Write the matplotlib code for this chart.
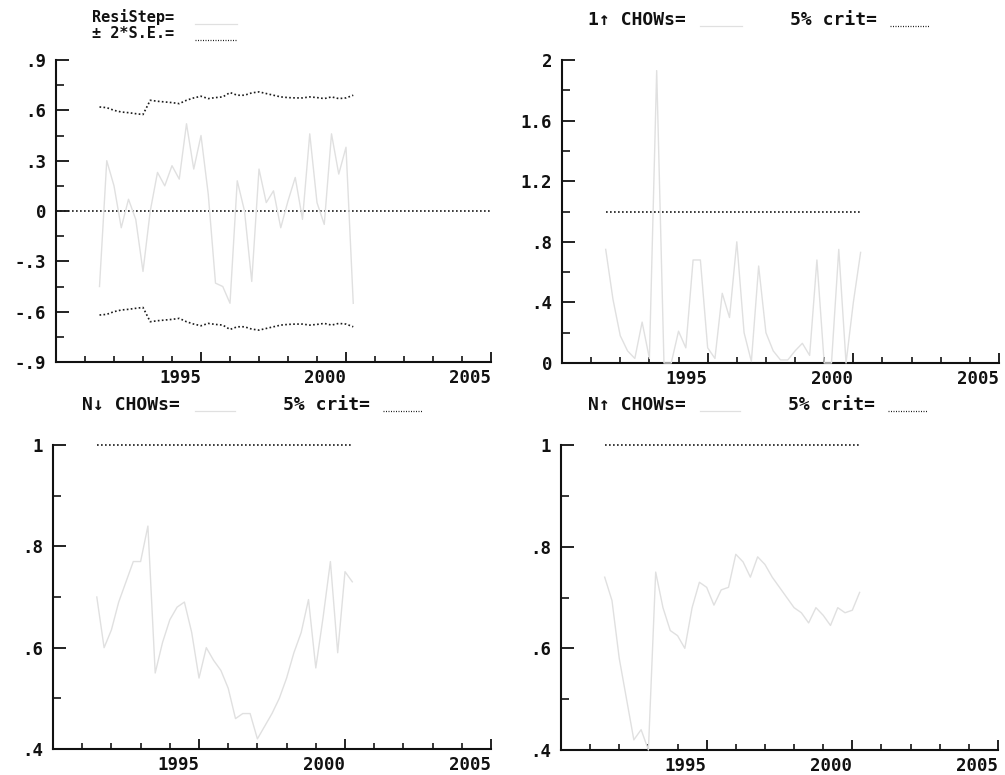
import numpy as np
import matplotlib
matplotlib.use('Agg')
import matplotlib.pyplot as plt
from matplotlib.ticker import FixedLocator, FuncFormatter
from matplotlib.lines import Line2D

FONT = ['DejaVu Sans Mono', 'DejaVu Sans']
plt.rcParams['font.family'] = FONT
plt.rcParams['font.weight'] = 'bold'

# ---------------- data (quarterly, 1991Q3 .. 2000Q2) ----------------
start_year = 1991.5
n_obs = 36
dates = start_year + 0.25 * np.arange(n_obs)

resid_step = [-0.45, 0.30, 0.15, -0.10, 0.07, -0.05, -0.36, 0.00, 0.23, 0.15,
              0.27, 0.19, 0.52, 0.25, 0.45, 0.10, -0.43, -0.45, -0.55, 0.18,
              0.00, -0.42, 0.25, 0.05, 0.12, -0.10, 0.06, 0.20, -0.05, 0.46,
              0.05, -0.08, 0.46, 0.22, 0.38, -0.55]
two_se = [0.620, 0.616, 0.600, 0.590, 0.586, 0.580, 0.575, 0.660, 0.654, 0.650,
          0.646, 0.640, 0.660, 0.674, 0.684, 0.670, 0.676, 0.680, 0.706, 0.690,
          0.690, 0.704, 0.710, 0.700, 0.690, 0.680, 0.676, 0.674, 0.674, 0.680,
          0.676, 0.670, 0.680, 0.670, 0.674, 0.690]
chow_1up = [0.75, 0.42, 0.18, 0.08, 0.03, 0.27, 0.03, 1.93, 0.00, 0.00,
            0.21, 0.10, 0.68, 0.68, 0.10, 0.03, 0.46, 0.30, 0.80, 0.20,
            0.01, 0.64, 0.20, 0.08, 0.02, 0.02, 0.08, 0.13, 0.05, 0.68,
            0.00, 0.00, 0.75, 0.00, 0.40, 0.73]
chow_ndown = [0.70, 0.60, 0.635, 0.69, 0.73, 0.77, 0.77, 0.84, 0.55, 0.61,
              0.655, 0.68, 0.69, 0.63, 0.54, 0.60, 0.575, 0.555, 0.52, 0.46,
              0.47, 0.47, 0.42, 0.445, 0.47, 0.50, 0.54, 0.59, 0.63, 0.695,
              0.56, 0.66, 0.77, 0.59, 0.75, 0.73]
chow_nup = [0.74, 0.694, 0.58, 0.50, 0.42, 0.44, 0.40, 0.75, 0.68, 0.635,
            0.625, 0.60, 0.68, 0.73, 0.72, 0.685, 0.715, 0.72, 0.785, 0.77,
            0.74, 0.78, 0.765, 0.74, 0.72, 0.70, 0.68, 0.67, 0.65, 0.68,
            0.665, 0.645, 0.68, 0.67, 0.675, 0.71]
crit_5pct = 1.0

x_major = [1995, 2000, 2005]
x_minor = [1991, 1992, 1993, 1994, 1996, 1997, 1998, 1999, 2001, 2002, 2003, 2004]

# ---------------- style ----------------
LINE_C = '#e0e0e0'
DOT_C = '#1a1a1a'
DOTS = (0, (1.0, 1.4))
W, H = 1005, 775

fig = plt.figure(figsize=(W / 100, H / 100), dpi=100)
fig.patch.set_facecolor('white')


def fmt(v, pos):
    s = '%g' % round(v, 3)
    if s.startswith('0.'):
        s = s[1:]
    elif s.startswith('-0.'):
        s = '-' + s[2:]
    return s


def make_ax(l, r, t, b, ylim, ymaj, ymin):
    ax = fig.add_axes([l / W, 1 - b / H, (r - l) / W, (b - t) / H])
    ax.set_xlim(1990, 2005)
    ax.set_ylim(*ylim)
    for s in ('top', 'right'):
        ax.spines[s].set_visible(False)
    for s in ('left', 'bottom'):
        ax.spines[s].set_linewidth(1.5)
        ax.spines[s].set_color('#111111')
    ax.xaxis.set_major_locator(FixedLocator(x_major))
    ax.xaxis.set_minor_locator(FixedLocator(x_minor))
    ax.yaxis.set_major_locator(FixedLocator(ymaj))
    ax.yaxis.set_minor_locator(FixedLocator(ymin))
    ax.yaxis.set_major_formatter(FuncFormatter(fmt))
    ax.xaxis.set_major_formatter(FuncFormatter(lambda v, p: '%d' % v))
    ax.tick_params(axis='y', which='major', direction='in', length=9, width=1.3,
                   pad=7, labelsize=12.5, colors='#111111')
    ax.tick_params(axis='y', which='minor', direction='in', length=6, width=1.1)
    ax.tick_params(axis='x', which='major', direction='in', length=7, width=1.3,
                   pad=5, labelsize=12.5, colors='#111111')
    ax.tick_params(axis='x', which='minor', direction='in', length=4, width=1.1)
    for lab in ax.get_xticklabels():
        lab.set_horizontalalignment('right')
        lab.set_fontweight('bold')
    for lab in ax.get_yticklabels():
        lab.set_fontweight('bold')
    return ax


def legend_text(x_center, y_base, text, size=13):
    fig.text(x_center / W, 1 - y_base / H, text, ha='center', va='baseline',
             fontsize=size, fontweight='bold', color='#111111', family=FONT)


def legend_line(x0, x1, y, dotted):
    if dotted:
        ln = Line2D([x0 / W, x1 / W], [1 - y / H, 1 - y / H], transform=fig.transFigure,
                    color=DOT_C, lw=0.9, linestyle=(0, (0.8, 1.2)))
    else:
        ln = Line2D([x0 / W, x1 / W], [1 - y / H, 1 - y / H], transform=fig.transFigure,
                    color=LINE_C, lw=0.9)
    fig.add_artist(ln)


# ---------------- panel 1: recursive residuals ----------------
ax1 = make_ax(56, 491, 60, 362, (-0.9, 0.9),
              [-0.9, -0.6, -0.3, 0, 0.3, 0.6, 0.9],
              [-0.75, -0.45, -0.15, 0.15, 0.45, 0.75])
ax1.axhline(0, color=DOT_C, lw=1.2, linestyle=DOTS, zorder=2)
se_arr = np.array(two_se)
ax1.plot(dates, se_arr, color=DOT_C, lw=1.2, linestyle=DOTS, zorder=2)
ax1.plot(dates, -se_arr, color=DOT_C, lw=1.2, linestyle=DOTS, zorder=2)
ax1.plot(dates, resid_step, color=LINE_C, lw=1.0, zorder=3)
legend_text(133, 22, 'ResiStep=', size=11)
legend_line(195, 237, 24, False)
legend_text(133, 38, '± 2*S.E.=', size=11)
legend_line(195, 237, 40, True)

# ---------------- panel 2: 1-step Chow ----------------
ax2 = make_ax(562, 999, 60, 363, (0, 2),
              [0, 0.4, 0.8, 1.2, 1.6, 2.0],
              [0.2, 0.6, 1.0, 1.4, 1.8])
ax2.plot(dates, [crit_5pct] * n_obs, color=DOT_C, lw=1.2, linestyle=DOTS, zorder=2)
ax2.plot(dates, chow_1up, color=LINE_C, lw=1.0, zorder=3, clip_on=False)
legend_text(637, 25, '1↑ CHOWs=')
legend_line(700, 742, 26, False)
legend_text(833, 25, '5% crit=')
legend_line(890, 930, 26, True)

# ---------------- panel 3: N-down Chow ----------------
ax3 = make_ax(53, 491, 445, 749, (0.4, 1.0),
              [0.4, 0.6, 0.8, 1.0], [0.5, 0.7, 0.9])
ax3.plot(dates, [crit_5pct] * n_obs, color=DOT_C, lw=1.2, linestyle=DOTS,
         zorder=2, clip_on=False)
ax3.plot(dates, chow_ndown, color=LINE_C, lw=1.0, zorder=3, clip_on=False)
legend_text(131, 410, 'N↓ CHOWs=')
legend_line(195, 235, 411, False)
legend_text(326, 410, '5% crit=')
legend_line(383, 422, 411, True)

# ---------------- panel 4: N-up Chow ----------------
ax4 = make_ax(561, 998, 445, 750, (0.4, 1.0),
              [0.4, 0.6, 0.8, 1.0], [0.5, 0.7, 0.9])
ax4.plot(dates, [crit_5pct] * n_obs, color=DOT_C, lw=1.2, linestyle=DOTS,
         zorder=2, clip_on=False)
ax4.plot(dates, chow_nup, color=LINE_C, lw=1.0, zorder=3, clip_on=False)
legend_text(637, 410, 'N↑ CHOWs=')
legend_line(700, 740, 411, False)
legend_text(831, 410, '5% crit=')
legend_line(888, 928, 411, True)

fig.savefig('out.png', dpi=100, facecolor='white')
